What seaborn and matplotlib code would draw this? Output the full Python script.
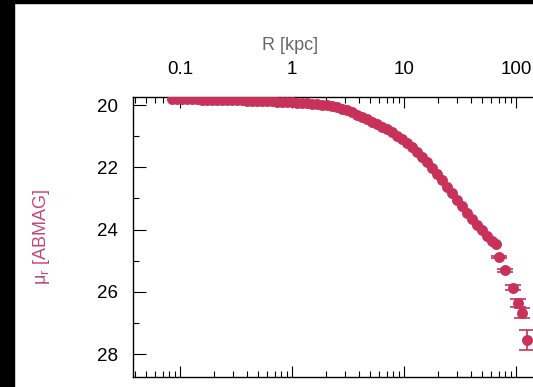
import numpy as np
import pandas as pd
import matplotlib
matplotlib.use('Agg')
import matplotlib.pyplot as plt
from matplotlib.patches import Rectangle
from matplotlib.ticker import LogLocator, FixedLocator, FuncFormatter, NullFormatter
import seaborn as sns

sns.set_theme(style="white")
plt.rcParams['font.family'] = ['Liberation Sans', 'DejaVu Sans']

# surface brightness profile
radius_kpc = [0.0849, 0.094, 0.104, 0.1155, 0.128, 0.142, 0.157, 0.174, 0.193, 0.214,
              0.237, 0.263, 0.291, 0.323, 0.358, 0.397, 0.44, 0.487, 0.54, 0.598,
              0.663, 0.735, 0.814, 0.902, 1.0, 1.109, 1.228, 1.361, 1.509, 1.672,
              1.853, 2.053, 2.276, 2.52, 2.8, 3.1, 3.43, 3.8, 4.22, 4.67,
              5.18, 5.74, 6.36, 7.05, 7.81, 8.66, 9.6, 10.6, 11.8, 13.1,
              14.5, 16.0, 17.8, 19.7, 21.8, 24.2, 26.8, 29.7, 33.0, 36.5,
              40.5, 44.8, 49.7, 55.1, 61.1, 66.0, 70.5, 79.8, 94.0, 104.0, 113.0, 125.0]
mu_r = [19.81, 19.81, 19.81, 19.82, 19.82, 19.82, 19.83, 19.83, 19.83, 19.84,
        19.84, 19.84, 19.84, 19.85, 19.85, 19.86, 19.87, 19.87, 19.87, 19.88,
        19.88, 19.89, 19.89, 19.90, 19.91, 19.92, 19.93, 19.94, 19.96, 19.98,
        19.99, 20.01, 20.04, 20.07, 20.12, 20.17, 20.24, 20.31, 20.39, 20.46,
        20.53, 20.61, 20.69, 20.77, 20.87, 20.98, 21.10, 21.22, 21.35, 21.51,
        21.67, 21.83, 22.01, 22.22, 22.42, 22.63, 22.84, 23.04, 23.25, 23.47,
        23.66, 23.84, 24.01, 24.19, 24.37, 24.45, 24.88, 25.30, 25.87, 26.36, 26.68, 27.54]
mu_err = [0.0] * 66 + [0.03, 0.05, 0.08, 0.12, 0.17, 0.32]

x_ticks = [0.1, 1, 10, 100]
y_ticks = [20, 22, 24, 26, 28]

red = '#c8325a'
df = pd.DataFrame({'R': radius_kpc, 'mu': mu_r, 'err': mu_err})

fig = plt.figure(figsize=(5.33, 3.87), dpi=100)
fig.patch.set_facecolor('white')
# axes runs off the right side of the canvas, as in the cropped original
ax = fig.add_axes([133 / 533, 10 / 387, 467 / 533, 280 / 387])

sns.scatterplot(data=df, x='R', y='mu', ax=ax, color=red, s=62,
                linewidth=0, edgecolor=red, legend=False, zorder=3)
big = df[df['err'] > 0]
ax.errorbar(big['R'], big['mu'], yerr=big['err'], fmt='none', ecolor=red,
            elinewidth=1.2, capsize=6, capthick=1.2, zorder=2)

ax.set_xscale('log')
ax.set_xlim(0.038, 562)
ax.set_ylim(28.73, 19.743)
ax.set_xlabel('')
ax.set_ylabel('')

ax.xaxis.set_major_locator(FixedLocator(x_ticks))
ax.xaxis.set_major_formatter(FuncFormatter(lambda v, p: '%g' % v))
ax.xaxis.set_minor_locator(LogLocator(base=10, subs=np.arange(2, 10)))
ax.xaxis.set_minor_formatter(NullFormatter())
ax.yaxis.set_major_locator(FixedLocator(y_ticks))
ax.yaxis.set_minor_locator(FixedLocator([21, 23, 25, 27]))

ax.tick_params(axis='x', which='both', direction='in', top=True, bottom=True,
               labeltop=True, labelbottom=False, colors='black', width=0.8)
ax.tick_params(axis='x', which='major', length=8, pad=14, labelsize=13.5)
ax.tick_params(axis='x', which='minor', length=4)
ax.tick_params(axis='y', which='both', direction='in', left=True, right=False,
               colors='black', width=0.8)
ax.tick_params(axis='y', which='major', length=9.5, pad=11, labelsize=13.5)
ax.tick_params(axis='y', which='minor', length=4.5)
for s in ax.spines.values():
    s.set_color('black')
    s.set_linewidth(1.0)

fig.text(290 / 533, 1 - 45 / 387, 'R [kpc]', ha='center', va='center',
         fontsize=13, color='#666666')
fig.text(42 / 533, 1 - 237 / 387, 'μ$_\\mathregular{r}$ [ABMAG]', ha='center', va='center',
         rotation=90, fontsize=13, color='#c04a72')

# black strips along the left and top edges
fig.add_artist(Rectangle((0, 0), 14 / 533, 1, transform=fig.transFigure,
                         color='black', zorder=10))
fig.add_artist(Rectangle((0, 1 - 3 / 387), 1, 3 / 387, transform=fig.transFigure,
                         color='black', zorder=10))

fig.savefig('out.png', dpi=100)
